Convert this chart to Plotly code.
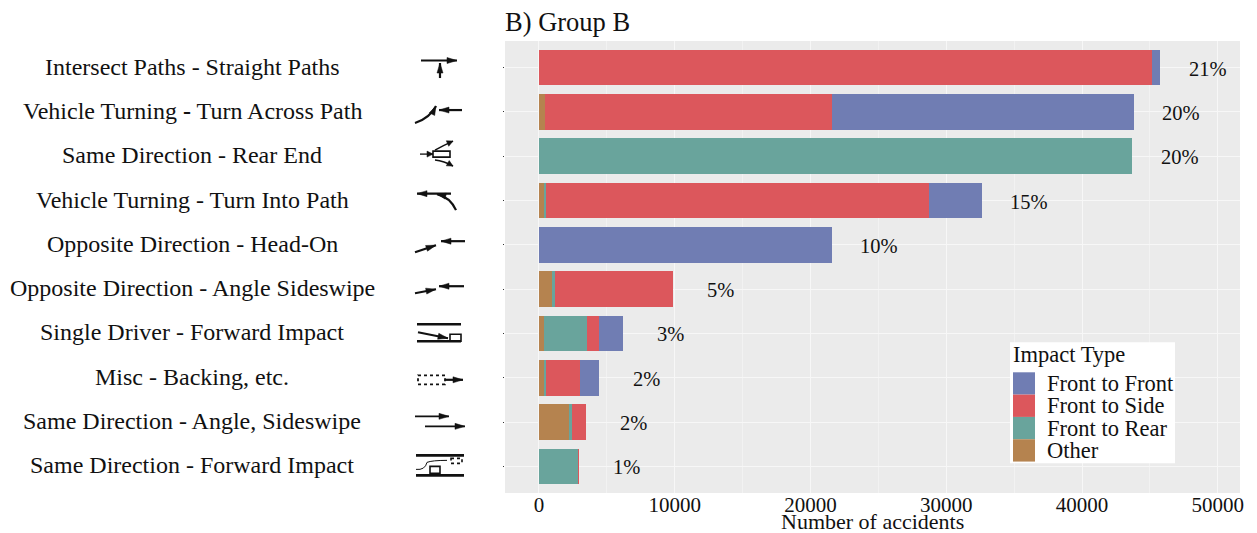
import math
import plotly.graph_objects as go

categories = ["Intersect Paths - Straight Paths", "Vehicle Turning <b>-</b> Turn Across Path",
              "Same Direction - Rear End", "Vehicle Turning - Turn Into Path",
              "Opposite Direction - Head-On", "Opposite Direction - Angle Sideswipe",
              "Single Driver - Forward Impact", "Misc - Backing, etc.",
              "Same Direction - Angle, Sideswipe", "Same Direction - Forward Impact"]
other = [0, 450, 0, 350, 0, 1000, 400, 450, 2200, 0]
rear = [0, 0, 43700, 200, 0, 150, 3150, 50, 250, 2900]
side = [45180, 21150, 0, 28150, 0, 8700, 900, 2550, 1050, 50]
front = [590, 22200, 0, 3900, 21550, 0, 1750, 1350, 0, 0]
percent = ["21%", "20%", "20%", "15%", "10%", "5%", "3%", "2%", "2%", "1%"]
series = [("Other", other, "#B5834F"), ("Front to Rear", rear, "#69A49C"),
          ("Front to Side", side, "#DC575C"), ("Front to Front", front, "#707DB3")]
x_ticks = [0, 10000, 20000, 30000, 40000, 50000]
FONT = "Liberation Serif"
W, H = 1257, 533
L, R, T, B = 505, 1240, 41, 492.6


def px(x):
    return (x - L) / (R - L)


def py(y):
    return (B - y) / (B - T)


def pt(x, y):
    return f"{px(x):.5f},{py(y):.5f}"


shapes = []
annots = []


def stroke(d, w=2.2, dash=None):
    shapes.append(dict(type="path", path=d, xref="paper", yref="paper", layer="above",
                       line=dict(color="#111111", width=w, dash=dash or "solid")))


def head(x0, y0, x1, y1, size=10):
    a = math.atan2(y1 - y0, x1 - x0)
    p = []
    for off, r in ((0, 0), (3, size), (-3, size)):
        p.append((x1 - r * math.cos(a) - off * math.sin(a) * (1 if r else 0),
                  y1 - r * math.sin(a) + off * math.cos(a) * (1 if r else 0)))
    d = "M" + " L".join(pt(*q) for q in p) + " Z"
    shapes.append(dict(type="path", path=d, xref="paper", yref="paper", layer="above",
                       fillcolor="#111111", line=dict(color="#111111", width=0.5)))


def arrow(x0, y0, x1, y1, w=2.2, size=10):
    stroke(f"M{pt(x0, y0)} L{pt(x1, y1)}", w)
    head(x0, y0, x1, y1, size)


def curve(x0, y0, cx, cy, x1, y1, w=2.2, size=9):
    stroke(f"M{pt(x0, y0)} Q{pt(cx, cy)} {pt(x1, y1)}", w)
    head(cx, cy, x1, y1, size)


def box(x0, y0, x1, y1, dash=None, w=1.6):
    stroke(f"M{pt(x0, y0)} L{pt(x1, y0)} L{pt(x1, y1)} L{pt(x0, y1)} Z", w, dash)


arrow(421, 60.5, 457, 60.5); arrow(440, 78, 440, 63)
curve(415, 123, 430, 118, 436, 106); arrow(462, 110, 439, 110)
arrow(420, 154, 433, 154, 1.3, 6); box(433, 151, 450, 157)
curve(435, 150, 444, 145, 453, 141, 1.5, 6); curve(435, 160, 444, 161, 453, 166, 1.5, 6)
arrow(451, 193.5, 417, 193.5); curve(456, 210, 450, 197, 437, 194)
arrow(415, 252, 436, 245); arrow(465, 241, 441, 241)
arrow(415, 293, 436, 289); arrow(464, 286, 439, 286)
stroke(f"M{pt(417, 324)} L{pt(461, 324)}", 2.6); stroke(f"M{pt(417, 341)} L{pt(461, 341)}", 2.6)
arrow(418, 332, 448, 338); box(450, 334, 461, 341)
box(418, 375, 445, 384, "dot", 1.8); arrow(445, 379.5, 463, 379.5)
arrow(415, 416, 449, 416, 1.8); arrow(425, 426, 465, 426, 1.8)
stroke(f"M{pt(416, 455)} L{pt(464, 455)}", 2.6); stroke(f"M{pt(416, 475)} L{pt(464, 475)}", 2.6)
box(451, 458, 462, 463, "dot"); box(430, 466, 440, 473)
stroke(f"M{pt(416, 469)} Q{pt(425, 470)} {pt(427, 462)} Q{pt(432, 460)} {pt(447, 460)}", 1)

# left labels
for i, c in enumerate(categories):
    annots.append(dict(text=c, xref="paper", yref="y", x=px(192), y=i, yshift=1, showarrow=False,
                       xanchor="center", yanchor="middle",
                       font=dict(family=FONT, size=24, color="#111111")))

totals = [a + b + c + d for a, b, c, d in zip(other, rear, side, front)]
for i, (t, p) in enumerate(zip(totals, percent)):
    annots.append(dict(text=p, xref="x", yref="y", x=t, y=i, xshift=47.5, yshift=-1, showarrow=False,
                       xanchor="center", yanchor="middle",
                       font=dict(family=FONT, size=20.5, color="#111111")))

# legend panel
shapes.append(dict(type="rect", xref="paper", yref="paper", x0=px(1010), x1=px(1175),
                   y0=py(463), y1=py(342), fillcolor="white", line=dict(width=0), layer="above"))
annots.append(dict(text="Impact Type", xref="paper", yref="paper", x=px(1011), y=py(354),
                   xanchor="left", yanchor="middle", showarrow=False,
                   font=dict(family=FONT, size=22.5, color="#111111")))
for k, (name, _, col) in enumerate(reversed(series)):
    y0 = 372 + k * 22.3
    shapes.append(dict(type="rect", xref="paper", yref="paper", x0=px(1013), x1=px(1035),
                       y0=py(y0 + 22.3), y1=py(y0), fillcolor=col, line=dict(width=0), layer="above"))
    annots.append(dict(text=name, xref="paper", yref="paper", x=px(1045), y=py(y0 + 11.2),
                       xanchor="left", yanchor="middle", showarrow=False,
                       font=dict(family=FONT, size=22.5, color="#111111")))

annots.append(dict(text="B) Group B", xref="paper", yref="paper", x=px(503), y=py(22),
                   xanchor="left", yanchor="middle", showarrow=False,
                   font=dict(family=FONT, size=26.5, color="#111111")))
annots.append(dict(text="Number of accidents", xref="paper", yref="paper", x=px(872), y=py(521.5),
                   xanchor="center", yanchor="middle", showarrow=False,
                   font=dict(family=FONT, size=22, color="#111111")))

fig = go.Figure()
for name, vals, col in series:
    fig.add_trace(go.Bar(name=name, y=list(range(10)), x=vals, orientation="h",
                         marker=dict(color=col, line=dict(width=0)), width=0.8))

fig.update_layout(
    width=W, height=H, barmode="stack", showlegend=False,
    paper_bgcolor="white", plot_bgcolor="#EBEBEB",
    margin=dict(l=L, r=W - R, t=T, b=H - B, pad=0),
    shapes=shapes, annotations=annots, font=dict(family=FONT, color="#111111"),
    xaxis=dict(range=[-2495, 51630], tickvals=x_ticks, tickformat="d", showgrid=True,
               gridcolor="#F7F7F7", gridwidth=1.2, zeroline=False, ticks="", showline=False,
               ticklabelstandoff=-3,
               tickfont=dict(family=FONT, size=21, color="#111111"),
               minor=dict(tickvals=[5000, 15000, 25000, 35000, 45000], showgrid=True,
                          gridcolor="#F2F2F2", gridwidth=0.7)),
    yaxis=dict(range=[9.6, -0.6], tickvals=list(range(10)), ticktext=[""] * 10, showgrid=True,
               gridcolor="#F7F7F7", gridwidth=1.2, zeroline=False, ticks="outside", ticklen=1,
               tickcolor="#333333", showline=False),
)
fig.write_html("out.html", config=dict(displayModeBar=False),
               post_script="document.body.style.margin='0';")
